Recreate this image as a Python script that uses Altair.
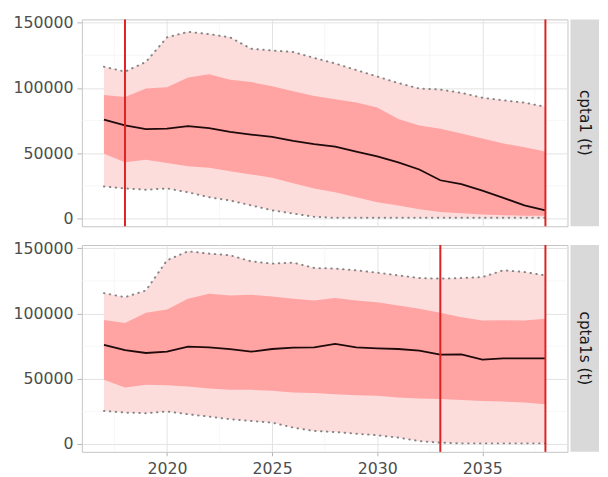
import altair as alt
import pandas as pd

years = list(range(2017, 2039))

# panel 1: cpta1 (t)
p1_med = [75750, 71250, 68500, 68750, 70750, 69250, 66250, 64250, 62500, 59500, 57000,
          55000, 51250, 47500, 43000, 37500, 29250, 26250, 21250, 15750, 10000, 6250]
p1_in_hi = [94500, 93000, 99500, 100500, 108000, 110500, 106250, 104500, 101250, 97500, 93750,
            91250, 88750, 85000, 76250, 71250, 68750, 65000, 61250, 57500, 54500, 51250]
p1_in_lo = [49500, 43000, 45000, 42500, 40000, 38750, 36250, 33750, 31250, 27000, 23000,
            20000, 16250, 12500, 10000, 7000, 5000, 4000, 3000, 2500, 2000, 2000]
p1_out_hi = [116250, 112500, 120000, 138750, 143000, 141250, 138750, 130000, 128750, 127500, 123000,
             118750, 113750, 108750, 103750, 99500, 98750, 96250, 92500, 90500, 88750, 85500]
p1_out_lo = [24500, 23000, 22000, 23000, 20000, 16250, 13750, 10000, 6250, 3750, 1250,
             500, 500, 500, 500, 500, 500, 500, 500, 500, 500, 500]
p1_vlines = [2018, 2038]

# panel 2: cpta1s (t)
p2_med = [75900, 72000, 69750, 70750, 74600, 74100, 72800, 70750, 72800, 73800, 74100,
          76700, 74100, 73300, 72800, 71500, 68500, 68700, 64600, 65600, 65600, 65600]
p2_in_hi = [95100, 92800, 100500, 103000, 111300, 115100, 113800, 114400, 113000, 111300, 110000,
            111800, 110000, 108700, 106150, 103600, 100500, 97200, 94600, 94800, 94600, 95900]
p2_in_lo = [49200, 43300, 45400, 45000, 44100, 42600, 41500, 41500, 40800, 39500, 39000,
            38200, 37400, 36900, 35600, 34900, 34400, 33800, 33000, 32500, 31800, 30500]
p2_out_hi = [115600, 112500, 117700, 140800, 147700, 145900, 144600, 140000, 138200, 139000, 134900,
             134400, 133100, 131300, 129200, 127200, 126700, 127200, 127900, 133100, 131800, 129200]
p2_out_lo = [25400, 24100, 23600, 24900, 22800, 21000, 19000, 17700, 16400, 12600, 10000,
             9200, 7900, 6700, 4900, 2300, 1000, 500, 500, 500, 500, 500]
p2_vlines = [2033, 2038]

x_ticks = [2020, 2025, 2030, 2035]
x_minor = [2017.5, 2022.5, 2027.5, 2032.5, 2037.5]
y_ticks = [0, 50000, 100000, 150000]
y_minor = [25000, 75000, 125000]

W, H = 493, 210
FONT = "DejaVu Sans"
FS = 16
OUTER = "#FDDCDC"
INNER = "#FFA3A3"
RED = "#DC2222"

xscale = alt.Scale(domain=[2015.95, 2039.05], nice=False, zero=False)
yscale = alt.Scale(domain=[-6000, 152500], nice=False, zero=False)


def make_panel(label, med, in_lo, in_hi, out_lo, out_hi, vlines, show_x):
    df = pd.DataFrame({"year": years, "med": med, "in_lo": in_lo, "in_hi": in_hi,
                       "out_lo": out_lo, "out_hi": out_hi})
    xaxis = alt.Axis(values=x_ticks, grid=True, gridColor="#E3E3E3", gridWidth=1,
                     labels=show_x, ticks=show_x, domain=False, title=None,
                     tickSize=4, tickColor="#B5B5B5", labelPadding=5, format="d",
                     labelFont=FONT, labelFontSize=FS, labelColor="#4D4D4D")
    yaxis = alt.Axis(values=y_ticks, grid=True, gridColor="#E3E3E3", gridWidth=1,
                     domain=False, title=None, tickSize=5, tickColor="#B5B5B5",
                     labelPadding=4, format="d",
                     labelFont=FONT, labelFontSize=FS, labelColor="#4D4D4D")
    X = lambda f: alt.X(f, scale=xscale, axis=xaxis)
    Y = lambda f: alt.Y(f, scale=yscale, axis=yaxis)

    base = alt.Chart(df)
    minor_y = alt.Chart(pd.DataFrame({"v": y_minor})).mark_rule(
        color="#F1F1F1", strokeWidth=0.6).encode(y=Y("v:Q"))
    minor_x = alt.Chart(pd.DataFrame({"v": x_minor})).mark_rule(
        color="#F1F1F1", strokeWidth=0.6).encode(x=X("v:Q"))
    outer = base.mark_area(color=OUTER, opacity=1).encode(
        x=X("year:Q"), y=Y("out_lo:Q"), y2="out_hi:Q")
    inner = base.mark_area(color=INNER, opacity=1).encode(
        x=X("year:Q"), y=Y("in_lo:Q"), y2="in_hi:Q")
    dot_hi = base.mark_line(color="#858585", strokeWidth=2, strokeDash=[0.5, 5.5],
                            strokeCap="round").encode(x=X("year:Q"), y=Y("out_hi:Q"))
    dot_lo = base.mark_line(color="#858585", strokeWidth=2, strokeDash=[0.5, 5.5],
                            strokeCap="round").encode(x=X("year:Q"), y=Y("out_lo:Q"))
    line = base.mark_line(color="#1E0A0A", strokeWidth=1.8).encode(
        x=X("year:Q"), y=Y("med:Q"))
    rules = alt.Chart(pd.DataFrame({"v": vlines})).mark_rule(
        color=RED, strokeWidth=2).encode(x=X("v:Q"))
    sdf = pd.DataFrame({"label": [label]})
    strip = alt.Chart(sdf).mark_rect(color="#D9D9D9").encode(
        x=alt.value(W + 3), x2=alt.value(W + 32), y=alt.value(0), y2=alt.value(H))
    stext = alt.Chart(sdf).mark_text(angle=90, font=FONT, fontSize=15.5,
                                     color="#1A1A1A", align="center",
                                     baseline="middle").encode(
        x=alt.value(W + 17.5), y=alt.value(H / 2), text="label:N")
    return alt.layer(minor_y, minor_x, outer, inner, dot_hi, dot_lo, line, rules,
                     strip, stext).properties(width=W, height=H)


p1 = make_panel("cpta1 (t)", p1_med, p1_in_lo, p1_in_hi, p1_out_lo, p1_out_hi, p1_vlines, False)
p2 = make_panel("cpta1s (t)", p2_med, p2_in_lo, p2_in_hi, p2_out_lo, p2_out_hi, p2_vlines, True)

chart = alt.vconcat(p1, p2, spacing=11).properties(
    padding={"left": 4, "top": 2, "right": 0, "bottom": 0},
    background="white"
).configure_view(stroke="#C4C4C4", strokeWidth=1)

chart.save("out.html", embed_options={"renderer": "svg", "actions": False})
